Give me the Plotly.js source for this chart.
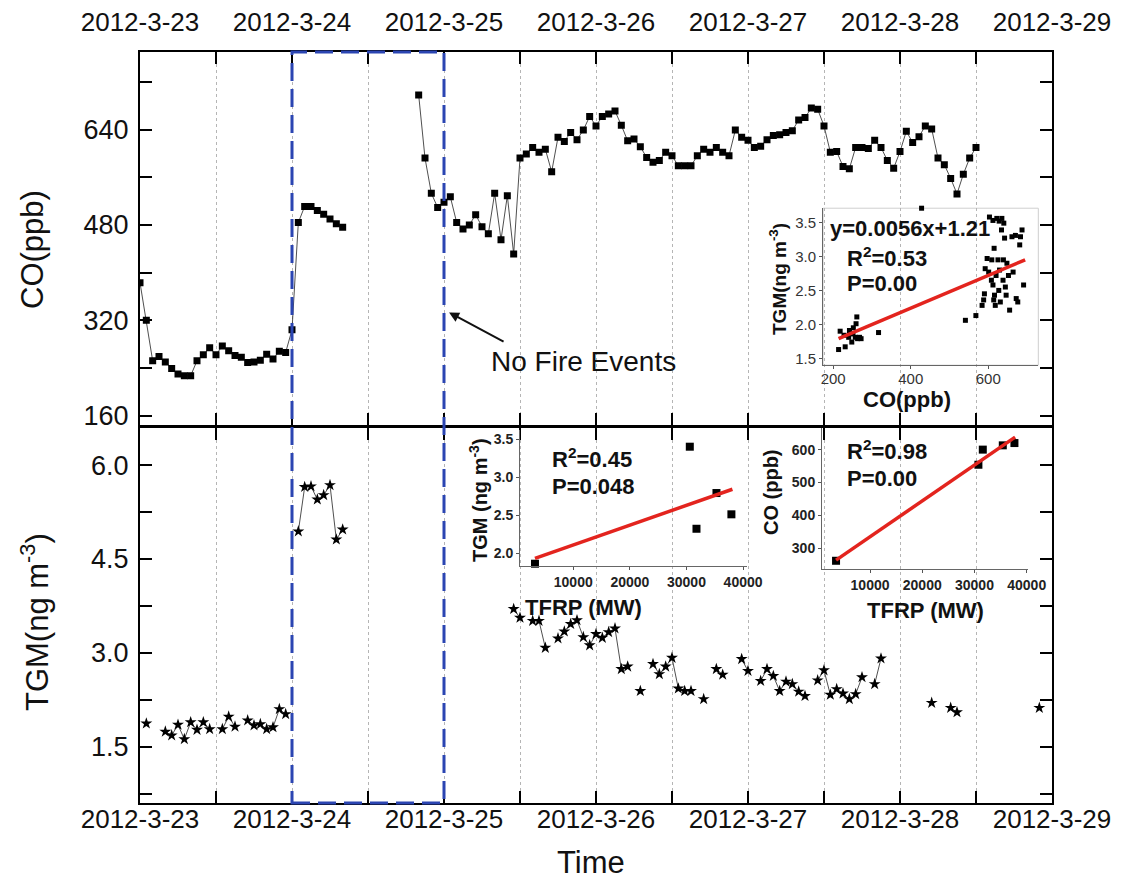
<!DOCTYPE html>
<html><head><meta charset="utf-8">
<script src="https://cdn.plot.ly/plotly-3.0.1.min.js"></script>
<style>html,body{margin:0;padding:0;background:#fff;}#chart{width:1121px;height:881px;}</style>
</head><body><div id="chart"></div>
<script>
// ---------- data ----------
// hours after 2012-03-23 00:00
const coHours = [0,1,2,3,4,5,6,7,8,9,10,11,12,13,14,15,16,17,18,19,20,21,22,23,24,25,26,27,28,29,30,31,32,
  44,45,46,47,48,49,50,51,52,53,54,55,56,57,58,59,60,61,62,63,64,65,66,67,68,69,70,71,72,73,74,75,76,77,78,79,80,
  81,82,83,84,85,86,87,88,89,90,91,92,93,94,95,96,97,98,99,100,101,102,103,104,105,106,107,108,109,110,111,112,113,
  114,115,116,117,118,119,120,121,122,123,124,125,126,127,128,129,130,131,132];
const coValues = [383,320,252,259,250,239,230,227,227,252,262,274,262,277,269,261,258,249,250,253,263,255,268,266,304,484,511,511,504,498,490,482,476,
  698,592,533,509,518,527,484,473,480,497,477,465,533,455,529,431,592,599,610,602,607,569,627,620,635,623,639,662,646,662,666,671,647,621,624,611,593,
  585,588,602,596,579,579,579,596,607,602,610,602,596,639,627,622,610,612,623,630,631,635,638,656,660,676,674,646,602,603,578,574,610,
  610,608,622,610,588,575,603,637,618,628,646,641,592,581,558,532,565,592,610];
const tgmHours = [1,4,5,6,7,8,9,10,11,13,14,15,17,18,19,20,21,22,23,25,26,27,28,29,30,31,32,
  59,60,62,63,64,66,67,68,69,70,71,72,73,74,75,76,77,79,81,82,83,84,85,86,87,89,91,92,95,96,
  98,99,100,101,102,103,104,105,107,108,109,110,111,112,113,114,116,117,125,128,129,142];
const tgmValues = [1.87,1.74,1.68,1.85,1.62,1.89,1.77,1.89,1.78,1.78,1.98,1.82,1.92,1.84,1.86,1.78,1.81,2.10,2.02,4.94,5.65,5.66,5.45,5.52,5.68,4.81,4.97,
  3.70,3.56,3.51,3.51,3.08,3.23,3.34,3.46,3.52,3.25,3.12,3.30,3.24,3.33,3.39,2.74,2.78,2.39,2.82,2.66,2.78,2.92,2.43,2.39,2.39,2.26,2.74,2.65,2.90,2.71,
  2.55,2.74,2.63,2.39,2.54,2.50,2.38,2.31,2.56,2.72,2.33,2.42,2.35,2.26,2.34,2.61,2.50,2.91,2.20,2.12,2.05,2.12];
const dayTickHours = [0,24,48,72,96,120,144];
const dayTickLabels = ['2012-3-23','2012-3-24','2012-3-25','2012-3-26','2012-3-27','2012-3-28','2012-3-29'];
const halfDayHours = [12,36,60,84,108,132];
const coTickVals = [160,320,480,640];
const coTickText = ['160','320','480','640'];
const coMinorVals = [240,400,560,720];
const tgmTickVals = [1.5,3.0,4.5,6.0];
const tgmTickText = ['1.5','3.0','4.5','6.0'];
const tgmMinorVals = [0.75,2.25,3.75,5.25];
const fireWindow = [24, 48];

// inset 1: TGM vs CO
const insetCO = [214,218,228,231,240,242,248,251,252,257,259,261,263,268,272,317,
  541,568,584,588,590,592,597,601,603,608,609,612,614,615,616,618,620,622,625,627,629,631,634,635,638,639,642,644,646,648,652,655,661,664,670,672,676,681,683,687,691,612,628,640,428];
const insetTGM = [1.63,1.90,1.84,1.67,1.81,1.91,1.74,1.86,1.95,1.81,2.01,2.11,1.79,1.81,1.79,1.88,
  2.06,2.13,2.28,2.36,2.45,2.82,2.97,2.77,3.58,2.65,2.95,2.58,2.36,3.12,2.43,2.28,2.72,3.56,2.95,2.50,2.80,2.33,3.39,3.56,2.65,2.95,3.27,2.55,2.43,2.90,2.72,2.21,3.29,2.77,3.31,2.38,2.33,3.17,3.29,3.39,2.58,3.53,3.52,3.49,3.71];
const fit1CO = [214, 695];
const fit1TGM = [1.79, 2.95];
const inset1XTicks = [200,400,600];
const inset1XText = ['200','400','600'];
const inset1YTicks = [1.5,2.0,2.5,3.0,3.5];
const inset1YText = ['1.5','2.0','2.5','3.0','3.5'];

// inset 2: TGM vs TFRP
const tfrpA = [3240,30590,31770,35300,37940];
const tgmA = [1.86,3.40,2.32,2.79,2.51];
const fit2X = [3240, 38120];
const fit2Y = [1.93, 2.84];
const inset2YTicks = [2.0,2.5,3.0,3.5];
const inset2YText = ['2.0','2.5','3.0','3.5'];
const tfrpTicks = [10000,20000,30000,40000];
const tfrpTickText = ['10000','20000','30000','40000'];

// inset 3: CO vs TFRP
const tfrpB = [3490,30750,31590,35420,37650];
const coB = [262,554,600,613,620];
const fit3X = [3490, 37780];
const fit3Y = [264, 638];
const inset3YTicks = [300,400,500,600];
const inset3YText = ['300','400','500','600'];

// ---------- helpers ----------
function withGaps(hours, vals){
  const xs=[], ys=[];
  for(let i=0;i<hours.length;i++){
    if(i>0 && hours[i]-hours[i-1]>1){ xs.push(null); ys.push(null); }
    xs.push(hours[i]); ys.push(vals[i]);
  }
  return {x:xs,y:ys};
}
const FONT = 'Liberation Sans, Arial, Helvetica, sans-serif';
const coG = withGaps(coHours, coValues);
const tgmG = withGaps(tgmHours, tgmValues);
const RED = '#e3241e';
const px = v => (v-140)/912;   // page px -> paper x
const py = v => (803-v)/751;   // page px -> paper y

const traces = [
  {x:coG.x, y:coG.y, xaxis:'x2', yaxis:'y', mode:'lines+markers', connectgaps:false,
   line:{color:'#222', width:0.8}, marker:{symbol:'square', size:7, color:'#000'}},
  {x:tgmG.x, y:tgmG.y, xaxis:'x', yaxis:'y2', mode:'lines+markers', connectgaps:false,
   line:{color:'#222', width:0.8}, marker:{symbol:'star', size:9, color:'#000'}},
  {x:insetCO, y:insetTGM, xaxis:'x3', yaxis:'y3', mode:'markers', cliponaxis:false,
   marker:{symbol:'square', size:5, color:'#000'}},
  {x:fit1CO, y:fit1TGM, xaxis:'x3', yaxis:'y3', mode:'lines', line:{color:RED, width:3.5}},
  {x:tfrpA, y:tgmA, xaxis:'x4', yaxis:'y4', mode:'markers', cliponaxis:false,
   marker:{symbol:'square', size:8, color:'#000'}},
  {x:fit2X, y:fit2Y, xaxis:'x4', yaxis:'y4', mode:'lines', line:{color:RED, width:3.5}},
  {x:tfrpB, y:coB, xaxis:'x5', yaxis:'y5', mode:'markers', cliponaxis:false,
   marker:{symbol:'square', size:8, color:'#000'}},
  {x:fit3X, y:fit3Y, xaxis:'x5', yaxis:'y5', mode:'lines', line:{color:RED, width:3.5}}
];

const GRID = {gridcolor:'#b5b5b5', gridwidth:1, griddash:'3px,3px'};
const mainTime = Object.assign({
  range:[0,144], tickmode:'array', tickvals:dayTickHours, ticktext:dayTickLabels,
  ticks:'inside', ticklen:12, tickwidth:2, tickcolor:'#000',
  showline:true, linecolor:'#000', linewidth:2, mirror:'ticks',
  showgrid:true, zeroline:false, tickfont:{family:FONT, size:26, color:'#111'},
  minor:Object.assign({tickmode:'array', tickvals:halfDayHours, ticks:'inside', ticklen:12, tickwidth:2,
    tickcolor:'#000', showgrid:true}, GRID)
}, GRID);
const mainY = {
  tickmode:'array', ticks:'inside', ticklen:12, tickwidth:2, tickcolor:'#000', showline:true,
  linecolor:'#000', linewidth:2, mirror:'ticks', showgrid:false, zeroline:false, ticklabelstandoff:4,
  tickfont:{family:FONT, size:27, color:'#111'}
};
const insetAxisBase = {
  tickmode:'array', ticks:'outside', ticklen:3, tickwidth:1, tickcolor:'#555',
  showline:true, linecolor:'#666', linewidth:1, showgrid:false, zeroline:false
};
const boldTick = {family:FONT, size:14, color:'#222', weight:'bold'};

function ann(x, y, text, size, opts){
  return Object.assign({xref:'paper', yref:'paper', x:x, y:y, text:text, showarrow:false,
    xanchor:'center', yanchor:'middle', font:{family:FONT, size:size, color:'#111'}}, opts||{});
}

const layout = {
  width:1121, height:881,
  margin:{l:140, r:69, t:52, b:78},
  paper_bgcolor:'#fff', plot_bgcolor:'rgba(0,0,0,0)',
  showlegend:false, font:{family:FONT, color:'#111'},
  xaxis: Object.assign({}, mainTime, {domain:[0,1], anchor:'y2', side:'bottom',
    ticklabelstandoff:-8}),
  xaxis2: Object.assign({}, mainTime, {domain:[0,1], anchor:'y', side:'top', matches:'x',
    ticklabelstandoff:9}),
  yaxis: Object.assign({}, mainY, {domain:[0.5027,1], anchor:'x2', range:[143.5,770],
    tickvals:coTickVals, ticktext:coTickText,
    minor:{tickmode:'array', tickvals:coMinorVals, ticks:'inside', ticklen:12, tickwidth:2, tickcolor:'#000', showgrid:false}}),
  yaxis2: Object.assign({}, mainY, {domain:[0,0.5], anchor:'x', range:[0.6,6.6],
    tickvals:tgmTickVals, ticktext:tgmTickText,
    minor:{tickmode:'array', tickvals:tgmMinorVals, ticks:'inside', ticklen:12, tickwidth:2, tickcolor:'#000', showgrid:false}}),
  xaxis3: Object.assign({}, insetAxisBase, {domain:[0.749,0.985], anchor:'y3', range:[174,729],
    tickvals:inset1XTicks, ticktext:inset1XText, ticklabelstandoff:-3, tickfont:{family:FONT, size:15, color:'#333'}}),
  yaxis3: Object.assign({}, insetAxisBase, {domain:[0.583,0.792], anchor:'x3', range:[1.40,3.71],
    tickvals:inset1YTicks, ticktext:inset1YText, tickfont:{family:FONT, size:15, color:'#333'}}),
  xaxis4: Object.assign({}, insetAxisBase, {domain:[0.4167,0.6656], anchor:'y4', range:[600,40700],
    tickvals:tfrpTicks, ticktext:tfrpTickText, tickfont:boldTick}),
  yaxis4: Object.assign({}, insetAxisBase, {domain:[0.3156,0.4967], anchor:'x4', range:[1.83,3.62],
    tickvals:inset2YTicks, ticktext:inset2YText, tickfont:boldTick}),
  xaxis5: Object.assign({}, insetAxisBase, {domain:[0.7478,0.9737], anchor:'y5', range:[800,40250],
    tickvals:tfrpTicks, ticktext:tfrpTickText, tickfont:boldTick}),
  yaxis5: Object.assign({}, insetAxisBase, {domain:[0.3116,0.499], anchor:'x5', range:[237,665],
    tickvals:inset3YTicks, ticktext:inset3YText, tickfont:boldTick}),
  shapes:[
    {type:'rect', xref:'x', yref:'paper', x0:fireWindow[0], x1:fireWindow[1], y0:0, y1:1,
     line:{color:'#2b45b2', width:3, dash:'18px,8px'}, layer:'above'},
    {type:'rect', xref:'x3 domain', yref:'y3 domain', x0:0, x1:1, y0:0, y1:1,
     line:{color:'#cfcfcf', width:1}, layer:'below'}
  ],
  annotations:[
    ann(px(33), py(250), 'CO(ppb)', 31, {textangle:-90}),
    ann(px(35), py(622), 'TGM(ng m<sup>-3</sup>)', 31, {textangle:-90}),
    ann(px(591), py(862), 'Time', 31),
    ann(px(583), py(361), 'No Fire Events', 28),
    {xref:'x2', yref:'y', x:48.8, y:333, ax:56, ay:30, text:'', showarrow:true,
     arrowhead:2, arrowsize:1, arrowwidth:2, arrowcolor:'#111'},
    // inset 1
    ann(px(778), py(279), '<b>TGM(ng m<sup>-3</sup>)</b>', 19, {textangle:-90}),
    ann(px(907), py(399), '<b>CO(ppb)</b>', 22),
    ann(px(828), py(228), '<b>y=0.0056x+1.21</b>', 22, {xanchor:'left'}),
    ann(px(845), py(257), '<b>R<sup>2</sup>=0.53</b>', 22, {xanchor:'left'}),
    ann(px(845), py(283), '<b>P=0.00</b>', 22, {xanchor:'left'}),
    // inset 2
    ann(px(478), py(500), '<b>TGM (ng m<sup>-3</sup>)</b>', 20, {textangle:-90}),
    ann(px(583), py(607), '<b>TFRP (MW)</b>', 22),
    ann(px(550), py(458), '<b>R<sup>2</sup>=0.45</b>', 22, {xanchor:'left'}),
    ann(px(550), py(486), '<b>P=0.048</b>', 22, {xanchor:'left'}),
    // inset 3
    ann(px(771), py(492), '<b>CO (ppb)</b>', 20, {textangle:-90}),
    ann(px(925), py(610), '<b>TFRP (MW)</b>', 22),
    ann(px(845), py(450), '<b>R<sup>2</sup>=0.98</b>', 22, {xanchor:'left'}),
    ann(px(845), py(478), '<b>P=0.00</b>', 22, {xanchor:'left'})
  ]
};

Plotly.newPlot('chart', traces, layout, {displayModeBar:false, staticPlot:true});
</script></body></html>
